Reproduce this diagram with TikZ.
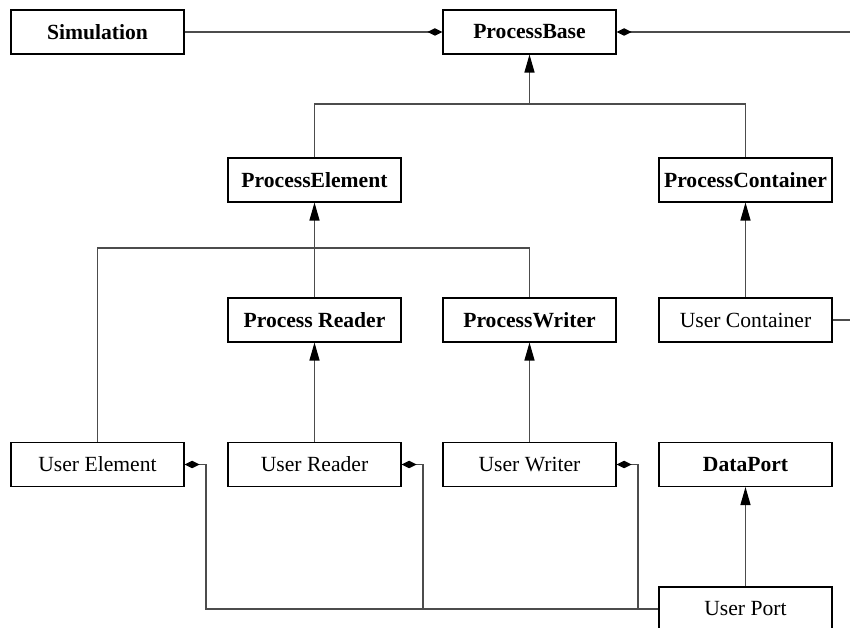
\documentclass[tikz,border=0pt]{standalone}
\usepackage{fontspec}
\setmainfont{Liberation Serif}
\usetikzlibrary{arrows.meta}

\tikzset{
  cls/.style={draw, line width=0.6pt, minimum width=3.46cm, minimum height=0.88cm,
    inner sep=1pt, font=\fontsize{12.3}{14}\selectfont\bfseries},
  usr/.style={cls, font=\fontsize{12.3}{14}\selectfont},
  link/.style={draw=black!70, line width=0.65pt},
  isa/.style={link, -{Triangle[width=0.2cm, length=0.36cm, color=black]}},
  has/.style={link, {Diamond[width=0.15cm, length=0.3cm, color=black]}-},
  owned/.style={link, -{Diamond[width=0.15cm, length=0.3cm, color=black]}},
}

\begin{document}
\begin{tikzpicture}[x=0.02cm, y=-0.02cm]
    \clip (0,0) rectangle (850,628);

    % Draw the framework classes
    \node[cls] (sim) at (97.5,32) {Simulation};
    \node[cls] (base) at (529.5,32) {ProcessBase};
    \node[cls] (elem) at (314.5,180) {ProcessElement};
    \node[cls] (cont) at (745.5,180) {ProcessContainer};
    \node[cls] (reader) at (314.5,320) {Process Reader};
    \node[cls] (writer) at (529.5,320) {ProcessWriter};
    \node[cls] (port) at (745.5,464.5) {DataPort};

    % Draw the user classes
    \node[usr] (ucont) at (745.5,320) {User Container};
    \node[usr] (uelem) at (97.5,464.5) {User Element};
    \node[usr] (ureader) at (314.5,464.5) {User Reader};
    \node[usr] (uwriter) at (529.5,464.5) {User Writer};
    \node[usr] (uport) at (745.5,609) {User Port};

    % Junctions and free ends
    \coordinate (jbase) at (529.5,104);
    \coordinate (jelem) at (314.5,248);
    \coordinate (edgeB) at (850,32);
    \coordinate (edgeC) at (850,320);

    % Inheritance
    \draw[isa] (jbase) -- (base.south);
    \draw[link] (elem.north) |- (jbase) -| (cont.north);
    \draw[isa] (jelem) -- (elem.south);
    \draw[link] (uelem.north) |- (jelem) -| (writer.north);
    \draw[link] (reader.north) -- (jelem);
    \foreach \a/\b in {ucont/cont, ureader/reader, uwriter/writer, uport/port}
      \draw[isa] (\a.north) -- (\b.south);

    % Aggregation
    \draw[owned] (sim.east) -- (base.west);
    \draw[has] (base.east) -- (edgeB);
    \draw[link] (ucont.east) -- (edgeC);
    \foreach \a in {uelem, ureader, uwriter}
      \draw[has] (\a.east) -- ++(21.5,0) |- (uport.west);
\end{tikzpicture}
\end{document}
